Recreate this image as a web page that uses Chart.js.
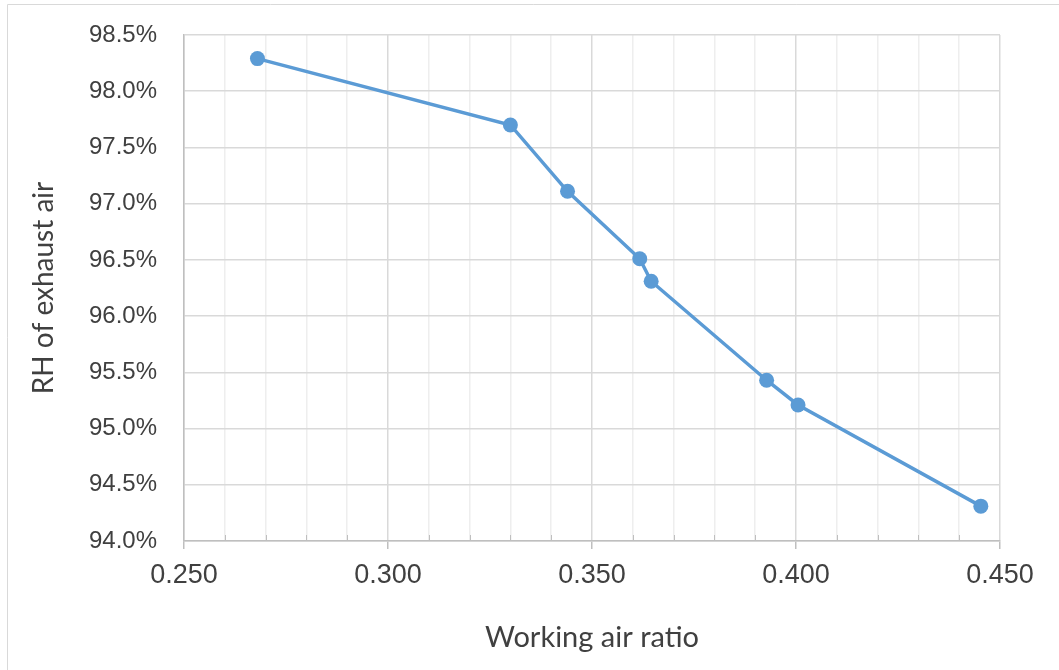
<!DOCTYPE html>
<html lang="en">
<head>
    <meta charset="UTF-8">
    <title>RH of exhaust air</title>
    <script src="https://cdn.jsdelivr.net/npm/chart.js"></script>
    <style>
        body { margin: 0; background: #fff; }
        #wrap { width: 1059px; height: 670px; }
    </style>
</head>
<body>
    <div id="wrap"><canvas id="rhChart"></canvas></div>

    <script>
        // dados
        const airRatio = [0.268, 0.330, 0.344, 0.3617, 0.3645, 0.3928, 0.4005, 0.4453];
        const rhExhaust = [98.29, 97.70, 97.11, 96.51, 96.31, 95.43, 95.21, 94.31];
        const xTitle = "Working air ratio";
        const yTitle = "RH of exhaust air";

        const isMajor = v => Math.abs(Math.round(v * 1000) % 50) === 0;

        // moldura externa e marcas menores do eixo x
        const extras = {
            id: 'extras',
            beforeDraw(chart) {
                const c = chart.ctx;
                c.save();
                c.strokeStyle = '#d9d9d9';
                c.lineWidth = 1;
                c.beginPath();
                c.moveTo(7.5, 670);
                c.lineTo(7.5, 4.5);
                c.lineTo(1059, 4.5);
                c.stroke();
                c.restore();
            },
            afterDatasetsDraw(chart) {
                const c = chart.ctx;
                const xs = chart.scales.x;
                const bottom = chart.chartArea.bottom;
                c.save();
                c.strokeStyle = '#bfbfbf';
                c.lineWidth = 1;
                xs.ticks.forEach(t => {
                    if (isMajor(t.value)) return;
                    const px = Math.round(xs.getPixelForValue(t.value)) + 0.5;
                    c.beginPath();
                    c.moveTo(px, bottom);
                    c.lineTo(px, bottom - 6);
                    c.stroke();
                });
                c.restore();
            }
        };

        const ctx = document.getElementById('rhChart').getContext('2d');
        const chart = new Chart(ctx, {
            type: 'scatter',
            data: {
                datasets: [{
                    data: airRatio.map((x, i) => ({ x: x, y: rhExhaust[i] })),
                    showLine: true,
                    borderColor: '#5b9bd5',
                    backgroundColor: '#5b9bd5',
                    borderWidth: 3.5,
                    pointRadius: 7.5,
                    pointHoverRadius: 7.5,
                    pointBorderWidth: 0
                }]
            },
            options: {
                responsive: true,
                maintainAspectRatio: false,
                animation: false,
                layout: { padding: { left: 0, top: 35, right: 59, bottom: 0 } },
                plugins: { legend: { display: false }, tooltip: { enabled: false } },
                scales: {
                    x: {
                        type: 'linear',
                        min: 0.25,
                        max: 0.45,
                        afterFit(s) { s.height = 129; },
                        ticks: {
                            stepSize: 0.01,
                            autoSkip: false,
                            maxRotation: 0,
                            padding: 10,
                            color: '#404040',
                            font: { family: 'Liberation Sans', size: 27 },
                            callback: v => isMajor(v) ? v.toFixed(3) : ''
                        },
                        grid: {
                            color: c => isMajor(c.tick.value) ? '#d9d9d9' : '#eeeeee',
                            lineWidth: 1.5,
                            tickLength: 8,
                            tickColor: c => isMajor(c.tick.value) ? '#bfbfbf' : 'rgba(0,0,0,0)'
                        },
                        border: { color: '#bfbfbf', width: 1.5 },
                        title: {
                            display: true,
                            text: xTitle,
                            color: '#404040',
                            font: { family: 'Lato', size: 29 },
                            padding: { top: 0, bottom: 15 }
                        }
                    },
                    y: {
                        min: 94,
                        max: 98.5,
                        afterFit(s) {
                            s.width = 184;
                            s.paddingTop = 0;
                            s.paddingBottom = 0;
                        },
                        ticks: {
                            stepSize: 0.5,
                            padding: 27,
                            color: '#404040',
                            font: { family: 'Liberation Sans', size: 24 },
                            callback: v => v.toFixed(1) + '%'
                        },
                        grid: { color: '#d9d9d9', lineWidth: 1.5, drawTicks: false },
                        border: { color: '#bfbfbf', width: 1.5 },
                        title: {
                            display: true,
                            text: yTitle,
                            color: '#404040',
                            font: { family: 'Lato', size: 28 },
                            padding: { top: 27, bottom: 0 }
                        }
                    }
                }
            },
            plugins: [extras]
        });
    </script>
</body>
</html>
